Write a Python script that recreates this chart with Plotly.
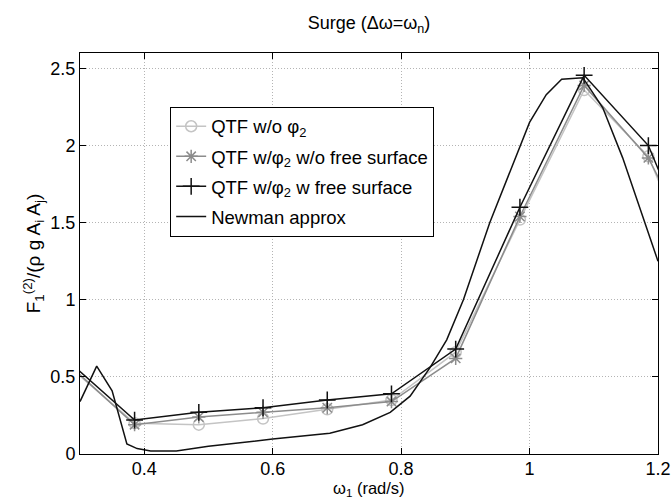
import plotly.graph_objects as go

# Data
x_qtf = [0.285, 0.385, 0.485, 0.585, 0.685, 0.785, 0.885, 0.985, 1.085, 1.185, 1.285]
y_no_phi2 = [0.56, 0.20, 0.19, 0.23, 0.29, 0.35, 0.66, 1.52, 2.36, 1.93, 0.93]
y_phi2_nofs = [0.57, 0.19, 0.24, 0.27, 0.30, 0.34, 0.62, 1.54, 2.39, 1.92, 1.10]
y_phi2_fs = [0.59, 0.22, 0.27, 0.30, 0.35, 0.39, 0.68, 1.60, 2.455, 2.00, 1.00]

x_newman = [0.3, 0.326, 0.35, 0.373, 0.389, 0.41, 0.45, 0.5, 0.6, 0.689, 0.74, 0.783,
            0.814, 0.845, 0.871, 0.897, 0.938, 0.985, 1.0, 1.026, 1.05, 1.083, 1.114,
            1.145, 1.171, 1.197, 1.2]
y_newman = [0.34, 0.57, 0.41, 0.065, 0.035, 0.02, 0.02, 0.05, 0.097, 0.135, 0.19, 0.27,
            0.375, 0.56, 0.74, 1.0, 1.5, 1.99, 2.15, 2.33, 2.43, 2.44, 2.245,
            1.92, 1.6, 1.28, 1.25]

x_ticks = [0.4, 0.6, 0.8, 1.0, 1.2]
x_ticklabels = ["0.4", "0.6", "0.8", "1", "1.2"]
y_ticks = [0, 0.5, 1, 1.5, 2, 2.5]
y_ticklabels = ["0", "0.5", "1", "1.5", "2", "2.5"]

names = ["QTF w/o φ<sub>2</sub>",
         "QTF w/φ<sub>2</sub> w/o free surface",
         "QTF w/φ<sub>2</sub> w free surface",
         "Newman approx"]
x_title = "ω<sub>1</sub> (rad/s)"
y_title = "F<sub>1</sub><sup>(2)</sup>/(ρ g A<sub>i</sub> A<sub>j</sub>)"
main_title = "Surge (Δω=ω<sub>n</sub>)"

FONT = "Liberation Sans, Arial, Helvetica, sans-serif"

fig = go.Figure()
fig.add_trace(go.Scatter(x=x_qtf, y=y_no_phi2, mode="lines+markers", name=names[0],
                         legendgroup="a",
                         line=dict(color="#c4c4c4", width=1.5),
                         marker=dict(symbol="circle-open", size=11, color="#c4c4c4",
                                     line=dict(width=1.5))))
fig.add_trace(go.Scatter(x=x_qtf, y=y_phi2_nofs, mode="lines+markers", name=names[1],
                         legendgroup="b",
                         line=dict(color="#8c8c8c", width=1.5),
                         marker=dict(symbol="asterisk-open", size=11, color="#8c8c8c",
                                     line=dict(width=1.5))))
fig.add_trace(go.Scatter(x=x_qtf, y=y_phi2_fs, mode="lines+markers", name=names[2],
                         legendgroup="c",
                         line=dict(color="#111111", width=1.5),
                         marker=dict(symbol="cross-thin-open", size=12, color="#111111",
                                     line=dict(width=1.5))))
fig.add_trace(go.Scatter(x=x_newman, y=y_newman, mode="lines", name=names[3],
                         legendgroup="d",
                         line=dict(color="#111111", width=1.5)))

axis_common = dict(showline=True, linecolor="black", linewidth=1, mirror="ticks",
                   ticks="inside", ticklen=6, tickcolor="black", automargin=False,
                   showgrid=True, gridcolor="#b4b4b4", griddash="1px,2px", gridwidth=1,
                   zeroline=False, tickfont=dict(size=18, color="black", family=FONT))

fig.update_layout(
    width=672, height=499,
    margin=dict(l=80, r=14, t=53, b=45),
    paper_bgcolor="white", plot_bgcolor="white",
    font=dict(family=FONT, color="black"),
    title=dict(text=main_title, xref="paper", x=0.5, xanchor="center",
               yref="container", y=0.955, yanchor="middle",
               font=dict(size=18, family=FONT, color="black")),
    xaxis=dict(range=[0.3, 1.2], tickvals=x_ticks, ticktext=x_ticklabels, ticklabelstandoff=-2,
               **axis_common),
    yaxis=dict(range=[0, 2.6], tickvals=y_ticks, ticktext=y_ticklabels,
               title=dict(text=y_title, standoff=4, font=dict(size=19, family=FONT)),
               **axis_common),
    legend=dict(x=0.156, y=0.866, xanchor="left", yanchor="top",
                bgcolor="white", bordercolor="black", borderwidth=1,
                font=dict(size=18.5, family=FONT, color="black"),
                tracegroupgap=3, itemwidth=30),
    showlegend=True,
    annotations=[dict(text=x_title, xref="paper", yref="paper", x=0.5, y=-0.116,
                      xanchor="center", yanchor="bottom", showarrow=False,
                      font=dict(size=16.5, family=FONT, color="black"))],
)

fig.write_html("out.html")
